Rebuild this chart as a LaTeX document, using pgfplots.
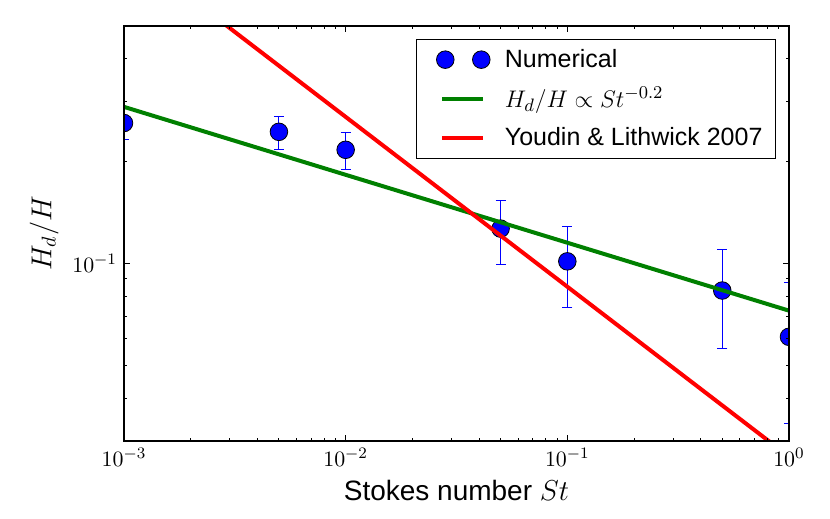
\documentclass[border=0pt]{standalone}
\usepackage{fontspec}
\setmainfont{Liberation Sans}
\usepackage{pgfplots}
\pgfplotsset{compat=1.18}
\definecolor{mplblue}{RGB}{0,0,255}
\definecolor{mplgreen}{RGB}{0,128,0}
\definecolor{mplred}{RGB}{255,0,0}
\pgfplotsset{
  mylineleg/.style={legend image code/.code={\path[draw=none,fill=none] (-8.5pt,-1pt) rectangle (29.3pt,1pt);
    \draw[##1] (0pt,0pt) -- (20.5pt,0pt);}},
  mydotleg/.style={legend image code/.code={\path[draw=none,fill=none] (-8.5pt,-1pt) rectangle (29.3pt,1pt);
    \path[draw=none, line width=0.4pt] plot[mark=*, mark size=4.4pt,
      mark options={draw=black, fill=mplblue}] coordinates {(1.5pt,0pt) (19.5pt,0pt)};}},
}
\pgfplotstableread{
x y ey
0.001 0.259 0.027
0.005 0.244 0.027
0.01 0.216 0.027
0.05 0.1266 0.027
0.1 0.1014 0.027
0.5 0.0832 0.027
1 0.0608 0.027
}\numdata
\begin{document}
\begin{tikzpicture}
\useasboundingbox (-62pt,-39pt) rectangle (353pt,220.5pt);
\begin{axis}[
  at={(0,0)}, anchor=south west,
  scale only axis, width=332.5pt, height=207.5pt,
  xmode=log, ymode=log,
  xmin=1e-3, xmax=1, ymin=0.03, ymax=0.5,
  axis on top,
  axis line style={line width=0.9pt},
  every tick/.style={black, line width=0.5pt},
  major tick length=3pt, minor tick length=1.6pt,
  tick align=inside,
  xtick={0.001,0.01,0.1,1},
  xticklabels={$10^{-3}$,$10^{-2}$,$10^{-1}$,$10^{0}$},
  minor xtick={0.002,0.003,0.004,0.005,0.006,0.007,0.008,0.009,0.02,0.03,0.04,0.05,0.06,0.07,0.08,0.09,0.2,0.3,0.4,0.5,0.6,0.7,0.8,0.9},
  ytick={0.1}, yticklabels={$10^{-1}$},
  minor ytick={0.04,0.05,0.06,0.07,0.08,0.09,0.2,0.3,0.4},
  ticklabel style={font=\fontsize{11}{13}\selectfont},
  label style={font=\fontsize{14}{17}\selectfont},
  xlabel={Stokes number $St$},
  ylabel={$H_d/H$},
  clip marker paths=true,
  legend style={at={(1,1)}, anchor=north east, xshift=-6.5pt, yshift=-6.3pt,
    draw=black, line width=0.5pt, inner xsep=4.5pt, inner ysep=3pt,
    font=\fontsize{12.5}{15}\selectfont, row sep=4.4pt},
  legend cell align=left,
]
\addplot[only marks, mark=*, mark size=4.4pt,
  mark options={fill=mplblue, draw=black, line width=0.4pt},
  mydotleg,
  error bars/.cd, y dir=both, y explicit,
  error bar style={mplblue, line width=0.5pt},
  error mark options={mplblue, rotate=90, mark size=2.5pt, line width=0.5pt},
  ]
  table[x=x, y=y, y error=ey] {\numdata};
\addlegendentry{Numerical}
\addplot[mplgreen, line width=2pt, mylineleg]
  coordinates {(0.001,0.289) (1,0.0726)};
\addlegendentry{$H_d/H \propto St^{-0.2}$}
\addplot[mplred, line width=2pt, mylineleg]
  coordinates {(0.001,0.854) (1,0.027)};
\addlegendentry{Youdin \& Lithwick 2007}
\end{axis}
\end{tikzpicture}
\end{document}
